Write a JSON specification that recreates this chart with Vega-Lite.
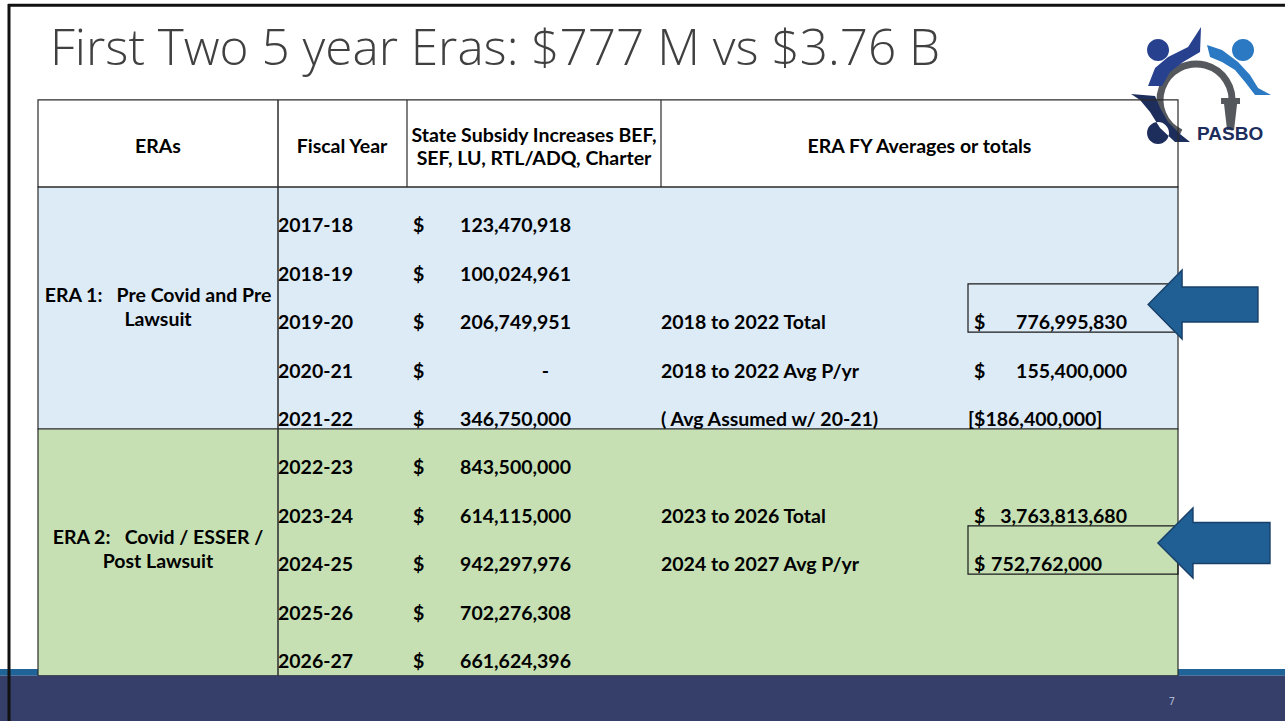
{
  "$schema": "https://vega.github.io/schema/vega-lite/v6.json",
  "width": 1285,
  "height": 721,
  "autosize": {"type": "fit", "contains": "padding"},
  "padding": 0,
  "background": "#ffffff",
  "config": {"view": {"stroke": null}, "axis": {"disable": true}, "legend": {"disable": true}},
  "data": {"values": [{}]},
  "datasets": {
    "fy": [
      {"row": 1, "era": "ERA 1", "fy": "2017-18", "amount": 123470918},
      {"row": 2, "era": "ERA 1", "fy": "2018-19", "amount": 100024961},
      {"row": 3, "era": "ERA 1", "fy": "2019-20", "amount": 206749951},
      {"row": 4, "era": "ERA 1", "fy": "2020-21", "amount": 0},
      {"row": 5, "era": "ERA 1", "fy": "2021-22", "amount": 346750000},
      {"row": 6, "era": "ERA 2", "fy": "2022-23", "amount": 843500000},
      {"row": 7, "era": "ERA 2", "fy": "2023-24", "amount": 614115000},
      {"row": 8, "era": "ERA 2", "fy": "2024-25", "amount": 942297976},
      {"row": 9, "era": "ERA 2", "fy": "2025-26", "amount": 702276308},
      {"row": 10, "era": "ERA 2", "fy": "2026-27", "amount": 661624396}
    ],
    "summary": [
      {"row": 3, "label": "2018 to 2022 Total", "total": 776995830},
      {"row": 4, "label": "2018 to 2022 Avg P/yr", "total": 155400000},
      {"row": 5, "label": "( Avg Assumed w/ 20-21)", "note": "[$186,400,000]"},
      {"row": 7, "label": "2023 to 2026 Total", "total": 3763813680},
      {"row": 8, "label": "2024 to 2027 Avg P/yr", "total": 752762000}
    ],
    "eras": [
      {"era": "ERA 1", "label": "ERA 1:\u00a0\u00a0 Pre Covid and Pre\nLawsuit", "start": 0, "end": 5},
      {"era": "ERA 2", "label": "ERA 2:\u00a0\u00a0 Covid / ESSER /\nPost Lawsuit", "start": 5, "end": 10.1}
    ],
    "header": [
      {"col": 4, "label": "ERAs"},
      {"col": 6, "label": "Fiscal Year"},
      {"col": 9, "label": "State Subsidy Increases BEF,\nSEF, LU, RTL/ADQ, Charter"},
      {"col": 12, "label": "ERA FY Averages or totals"}
    ]
  },
  "layer": [
    {
      "mark": {"type": "rect", "color": "#1f6397"},
      "encoding": {
        "x": {"datum": 0, "scale": {"type": "linear", "domain": [0,1,2,3,4,5,6,7,8,9,10,11,12,13,14,15,16,17], "range": [0,9,38,50,158,278,342,407,413,534,571,661,919.5,968,974,1127,1178,1285], "nice": false, "zero": false}},
        "x2": {"datum": 17},
        "y": {"datum": 9.96, "scale": {"type": "linear", "domain": [-3.864, 11.033], "range": [0, 721], "nice": false, "zero": false}},
        "y2": {"datum": 10.1}
      }
    },
    {
      "mark": {"type": "point", "shape": "M -0.274 0.537 A 0.514 0.514 0 1 1 0.449 0.160", "filled": false, "color": "#55595e", "strokeWidth": 7, "opacity": 1, "size": 19600},
      "encoding": {"x": {"datum": 16.206}, "y": {"datum": -1.901}}
    },
    {
      "mark": {"type": "point", "shape": "M -0.757 -0.643 A 0.157 0.157 0 1 0 -0.443 -0.643 A 0.157 0.157 0 1 0 -0.757 -0.643 Z M -0.743 -0.129 L -0.643 -0.386 L -0.457 -0.543 L -0.171 -0.686 L 0.014 -0.971 L 0 -0.614 L -0.243 -0.471 L -0.429 -0.329 L -0.543 -0.129 Z", "filled": true, "color": "#27418f", "opacity": 1, "size": 19600},
      "encoding": {"x": {"datum": 16.206}, "y": {"datum": -1.901}}
    },
    {
      "mark": {"type": "point", "shape": "M 0.457 -0.643 A 0.157 0.157 0 1 0 0.771 -0.643 A 0.157 0.157 0 1 0 0.457 -0.643 Z M 0.1 -0.714 L 0.314 -0.643 L 0.543 -0.471 L 0.714 -0.286 L 0.829 -0.1 L 1.014 0 L 0.786 0 L 0.643 -0.186 L 0.5 -0.357 L 0.314 -0.471 L 0.143 -0.543 Z", "filled": true, "color": "#2b79c2", "opacity": 1, "size": 19600},
      "encoding": {"x": {"datum": 16.206}, "y": {"datum": -1.901}}
    },
    {
      "mark": {"type": "point", "shape": "M -0.757 0.543 A 0.157 0.157 0 1 0 -0.443 0.543 A 0.157 0.157 0 1 0 -0.757 0.543 Z M -0.986 -0.014 L -0.643 0.014 L -0.571 0.186 L -0.457 0.386 L -0.286 0.557 L -0.143 0.671 L -0.357 0.671 L -0.571 0.471 L -0.714 0.243 L -0.857 0.071 Z", "filled": true, "color": "#1d2d5c", "opacity": 1, "size": 19600},
      "encoding": {"x": {"datum": 16.206}, "y": {"datum": -1.901}}
    },
    {
      "mark": {"type": "point", "shape": "M 0.3 0.043 L 0.571 0.043 L 0.571 0.129 L 0.529 0.129 L 0.486 0.5 L 0.386 0.5 L 0.343 0.129 L 0.3 0.129 Z", "filled": true, "color": "#55595e", "opacity": 1, "size": 19600},
      "encoding": {"x": {"datum": 16.206}, "y": {"datum": -1.901}}
    },
    {
      "mark": {"type": "text", "font": "Liberation Sans", "fontWeight": "bold", "fontSize": 19, "color": "#1d2d5c", "align": "left", "baseline": "alphabetic"},
      "encoding": {"x": {"datum": 16.178}, "y": {"datum": -0.971}, "text": {"value": "PASBO"}}
    },
    {
      "data": {"name": "eras"},
      "mark": {"type": "rect", "stroke": "#2b2b2b", "strokeWidth": 1.2},
      "encoding": {
        "x": {"datum": 2},
        "x2": {"datum": 16},
        "y": {"field": "start", "type": "quantitative"},
        "y2": {"field": "end"},
        "color": {"field": "era", "type": "nominal", "scale": {"domain": ["ERA 1", "ERA 2"], "range": ["#ddebf7", "#c6e0b4"]}}
      }
    },
    {
      "mark": {"type": "rect", "filled": false, "color": "#2b2b2b", "strokeWidth": 1.2},
      "encoding": {"x": {"datum": 2}, "x2": {"datum": 16}, "y": {"datum": -1.8}, "y2": {"datum": 0}}
    },
    {
      "mark": {"type": "rule", "color": "#2b2b2b", "strokeWidth": 1.5},
      "encoding": {"x": {"datum": 5}, "y": {"datum": -1.8}, "y2": {"datum": 10.1}}
    },
    {
      "mark": {"type": "rule", "color": "#2b2b2b", "strokeWidth": 1.2},
      "encoding": {"x": {"datum": 7}, "y": {"datum": -1.8}, "y2": {"datum": 0}}
    },
    {
      "mark": {"type": "rule", "color": "#2b2b2b", "strokeWidth": 1.2},
      "encoding": {"x": {"datum": 11}, "y": {"datum": -1.8}, "y2": {"datum": 0}}
    },
    {
      "data": {"name": "summary"},
      "transform": [{"filter": "datum.row === 3 || datum.row === 8"}],
      "mark": {"type": "rect", "filled": false, "color": "#1a1a1a", "strokeWidth": 1.2, "y2Offset": -48.4},
      "encoding": {"x": {"datum": 13}, "x2": {"datum": 16}, "y": {"field": "row", "type": "quantitative"}, "y2": {"field": "row"}}
    },
    {
      "data": {"name": "header"},
      "transform": [{"filter": "indexof(datum.label, '\\n') < 0"}],
      "mark": {"type": "text", "font": "Lato", "fontWeight": "bold", "fontSize": 19.5, "baseline": "middle", "align": "center", "color": "#000000"},
      "encoding": {"x": {"field": "col", "type": "quantitative"}, "y": {"datum": -0.83}, "text": {"field": "label"}}
    },
    {
      "data": {"name": "header"},
      "transform": [{"filter": "indexof(datum.label, '\\n') >= 0"}],
      "mark": {"type": "text", "font": "Lato", "fontWeight": "bold", "fontSize": 19.5, "lineBreak": "\n", "lineHeight": 23, "baseline": "middle", "align": "center", "dy": -11.5, "color": "#000000"},
      "encoding": {"x": {"field": "col", "type": "quantitative"}, "y": {"datum": -0.81}, "text": {"field": "label"}}
    },
    {
      "data": {"name": "fy"},
      "mark": {"type": "text", "font": "Lato", "fontWeight": "bold", "fontSize": 19.5, "baseline": "middle", "align": "left", "dy": -9, "color": "#000000"},
      "encoding": {"x": {"datum": 5}, "y": {"field": "row", "type": "quantitative"}, "text": {"field": "fy"}}
    },
    {
      "data": {"name": "fy"},
      "mark": {"type": "text", "font": "Lato", "fontWeight": "bold", "fontSize": 19.5, "baseline": "middle", "align": "left", "dy": -9, "color": "#000000"},
      "encoding": {"x": {"datum": 8}, "y": {"field": "row", "type": "quantitative"}, "text": {"value": "$"}}
    },
    {
      "data": {"name": "fy"},
      "transform": [{"filter": "datum.amount > 0"}],
      "mark": {"type": "text", "font": "Lato", "fontWeight": "bold", "fontSize": 19.5, "baseline": "middle", "align": "right", "dy": -9, "color": "#000000"},
      "encoding": {"x": {"datum": 10}, "y": {"field": "row", "type": "quantitative"}, "text": {"field": "amount", "type": "quantitative", "format": ","}}
    },
    {
      "data": {"name": "fy"},
      "transform": [{"filter": "datum.amount === 0"}],
      "mark": {"type": "text", "font": "Lato", "fontWeight": "bold", "fontSize": 19.5, "baseline": "middle", "align": "right", "dy": -9, "dx": -22, "color": "#000000"},
      "encoding": {"x": {"datum": 10}, "y": {"field": "row", "type": "quantitative"}, "text": {"value": "-"}}
    },
    {
      "data": {"name": "summary"},
      "mark": {"type": "text", "font": "Lato", "fontWeight": "bold", "fontSize": 19.5, "baseline": "middle", "align": "left", "dy": -9, "color": "#000000"},
      "encoding": {"x": {"datum": 11}, "y": {"field": "row", "type": "quantitative"}, "text": {"field": "label"}}
    },
    {
      "data": {"name": "summary"},
      "transform": [{"filter": "isValid(datum.total)"}],
      "mark": {"type": "text", "font": "Lato", "fontWeight": "bold", "fontSize": 19.5, "baseline": "middle", "align": "left", "dy": -9, "color": "#000000"},
      "encoding": {"x": {"datum": 14}, "y": {"field": "row", "type": "quantitative"}, "text": {"value": "$"}}
    },
    {
      "data": {"name": "summary"},
      "transform": [{"filter": "isValid(datum.total) && datum.row !== 8"}],
      "mark": {"type": "text", "font": "Lato", "fontWeight": "bold", "fontSize": 19.5, "baseline": "middle", "align": "right", "dy": -9, "color": "#000000"},
      "encoding": {"x": {"datum": 15}, "y": {"field": "row", "type": "quantitative"}, "text": {"field": "total", "type": "quantitative", "format": ","}}
    },
    {
      "data": {"name": "summary"},
      "transform": [{"filter": "datum.row === 8"}],
      "mark": {"type": "text", "font": "Lato", "fontWeight": "bold", "fontSize": 19.5, "baseline": "middle", "align": "right", "dy": -9, "dx": -25, "color": "#000000"},
      "encoding": {"x": {"datum": 15}, "y": {"field": "row", "type": "quantitative"}, "text": {"field": "total", "type": "quantitative", "format": ","}}
    },
    {
      "data": {"name": "summary"},
      "transform": [{"filter": "isValid(datum.note)"}],
      "mark": {"type": "text", "font": "Lato", "fontWeight": "bold", "fontSize": 19.5, "baseline": "middle", "align": "left", "dy": -9, "color": "#000000"},
      "encoding": {"x": {"datum": 13}, "y": {"field": "row", "type": "quantitative"}, "text": {"field": "note"}}
    },
    {
      "data": {"name": "eras"},
      "mark": {"type": "text", "font": "Lato", "fontWeight": "bold", "fontSize": 19.5, "lineBreak": "\n", "lineHeight": 24, "baseline": "middle", "align": "center", "dy": 109, "color": "#000000"},
      "encoding": {"x": {"datum": 4}, "y": {"field": "start", "type": "quantitative"}, "text": {"field": "label"}}
    },
    {
      "mark": {"type": "rect", "color": "#363f69"},
      "encoding": {"x": {"datum": 0}, "x2": {"datum": 17}, "y": {"datum": 10.1}, "y2": {"datum": 11.04}}
    },
    {
      "mark": {"type": "text", "font": "Open Sans", "fontSize": 10, "color": "#c5c9dd", "align": "center", "baseline": "middle"},
      "encoding": {"x": {"datum": 15.88}, "y": {"datum": 10.64}, "text": {"value": "7"}}
    },
    {
      "mark": {"type": "rule", "color": "#111111", "strokeWidth": 3},
      "encoding": {"x": {"datum": 0.9}, "x2": {"datum": 17}, "y": {"datum": -3.754}}
    },
    {
      "mark": {"type": "rule", "color": "#111111", "strokeWidth": 3},
      "encoding": {"x": {"datum": 1}, "y": {"datum": -3.78}, "y2": {"datum": 11.04}}
    },
    {
      "mark": {"type": "text", "font": "Open Sans", "fontWeight": 300, "fontSize": 49.5, "color": "#404040", "align": "left", "baseline": "alphabetic"},
      "encoding": {"x": {"datum": 3}, "y": {"datum": -2.521}, "text": {"value": "First Two 5 year Eras: $777 M vs $3.76 B"}}
    },
    {
      "mark": {"type": "point", "shape": "M -0.98 0 L -0.375 -0.616 L -0.375 -0.3125 L 0.98 -0.3125 L 0.98 0.3125 L -0.375 0.3125 L -0.375 0.616 Z", "filled": true, "color": "#1f5f94", "stroke": "#18406a", "strokeWidth": 1.5, "opacity": 1, "size": 12544},
      "encoding": {"x": {"datum": 16.234}, "y": {"datum": 2.428}}
    },
    {
      "mark": {"type": "point", "shape": "M -1 0 L -0.375 -0.625 L -0.375 -0.366 L 1 -0.366 L 1 0.366 L -0.375 0.366 L -0.375 0.625 Z", "filled": true, "color": "#1f5f94", "stroke": "#18406a", "strokeWidth": 1.5, "opacity": 1, "size": 12544},
      "encoding": {"x": {"datum": 16.336}, "y": {"datum": 7.355}}
    }
  ]
}
